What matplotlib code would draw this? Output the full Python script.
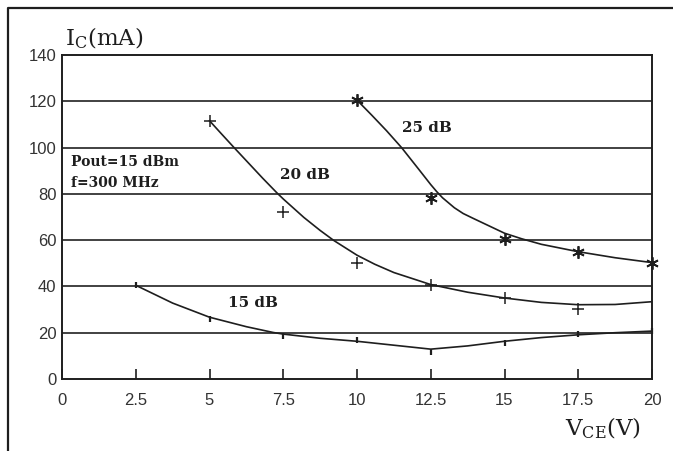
#!/usr/bin/env python3

import matplotlib
matplotlib.use("Agg")
import matplotlib.pyplot as plt
from matplotlib.lines import Line2D

# measured points (V_CE in V, I_C in mA)
vce_15 = [2.5, 5, 7.5, 10, 12.5, 15, 17.5, 20]
ic_15 = [40.5, 26, 18.7, 16.8, 11.6, 15.7, 19.3, 20.7]
vce_20 = [5, 7.5, 10, 12.5, 15, 17.5]
ic_20 = [111.6, 72.3, 50.3, 40.6, 35.0, 30.1]
vce_25 = [10, 12.5, 15, 17.5, 20]
ic_25 = [120.5, 78.1, 60.4, 55.0, 50.3]

# fitted curves
curve_x_15 = [2.5, 3.75, 5, 6.25, 7.16, 7.5, 8.75, 10, 11.25, 12.5, 13.75, 15, 16.25, 17.5, 18.75, 20]
curve_y_15 = [40.5, 32.8, 26.7, 22.6, 20.1, 19.4, 17.6, 16.3, 14.6, 12.9, 14.3, 16.3, 17.9, 19.1, 20.0, 20.7]
curve_x_20 = [5, 5.4, 5.81, 6.25, 6.8, 7.28, 7.5, 8.2, 8.75, 9.22, 10, 10.6, 11.25, 12.5, 13.75, 15, 16.25, 17.5, 18.75, 20]
curve_y_20 = [111.6, 106, 100.3, 94.3, 86.8, 80.5, 77.8, 69.8, 64.2, 59.8, 53.5, 49.6, 46.0, 40.8, 37.5, 35.0, 33.1, 32.1, 32.2, 33.4]
curve_x_25 = [10, 10.5, 11, 11.51, 12.1, 12.5, 12.7, 12.9, 13.3, 13.6, 13.94, 15, 15.58, 16.25, 17.5, 18.75, 20]
curve_y_25 = [120.5, 114, 107.3, 100, 90.5, 84, 81, 78.3, 74, 71.5, 69.4, 63.0, 60.6, 58.2, 55.0, 52.4, 50.3]

x_ticks = [0, 2.5, 5, 7.5, 10, 12.5, 15, 17.5, 20]
x_tick_labels = ["0", "2.5", "5", "7.5", "10", "12.5", "15", "17.5", "20"]
y_ticks = [0, 20, 40, 60, 80, 100, 120, 140]

INK = "#1e1e1e"
label_font = dict(family="DejaVu Serif", fontweight="bold", color=INK)

fig = plt.figure(figsize=(6.73, 4.51), dpi=100)
ax = fig.add_axes([62 / 673, 1 - 379 / 451, 590 / 673, 324 / 451])

for y in y_ticks[1:-1]:
    ax.axhline(y, color="#333333", lw=1.3, zorder=1)

ax.plot(curve_x_15, curve_y_15, color=INK, lw=1.2, zorder=3)
ax.plot(curve_x_20, curve_y_20, color=INK, lw=1.2, zorder=3)
ax.plot(curve_x_25, curve_y_25, color=INK, lw=1.2, zorder=3)

ax.plot(vce_15, ic_15, ls="none", marker="|", ms=4, mew=1.6, color=INK, zorder=4, clip_on=False)
ax.plot(vce_20, ic_20, ls="none", marker="+", ms=9, mew=1.1, color=INK, zorder=4, clip_on=False)
ax.plot(vce_25, ic_25, ls="none", marker=(6, 2, 0), ms=9, mew=1.3, color=INK, zorder=4, clip_on=False)

ax.text(11.52, 108.3, "25 dB", ha="left", va="center", fontsize=11, **label_font)
ax.text(7.39, 88.2, "20 dB", ha="left", va="center", fontsize=11, **label_font)
ax.text(5.64, 33, "15 dB", ha="left", va="center", fontsize=11, **label_font)
ax.text(0.3, 93.6, "Pout=15 dBm", ha="left", va="center", fontsize=10, **label_font)
ax.text(0.3, 84.8, "f=300 MHz", ha="left", va="center", fontsize=10, **label_font)

ax.set_xlim(0, 20)
ax.set_ylim(0, 140)
ax.set_xticks(x_ticks)
ax.set_xticklabels(x_tick_labels)
ax.set_yticks(y_ticks)
ax.tick_params(axis="x", direction="in", length=7, width=1.2, color=INK, pad=10,
               labelsize=12, labelcolor="#333333")
ax.tick_params(axis="y", length=0, pad=4, labelsize=12, labelcolor="#333333")
for t in ax.get_xticklabels() + ax.get_yticklabels():
    t.set_family("Liberation Sans")
for side in ["left", "right", "top", "bottom"]:
    ax.spines[side].set_color(INK)
    ax.spines[side].set_linewidth(1.4)

fig.text(65 / 673, 1 - 38 / 451, r"$\mathregular{I_C(mA)}$", ha="left", va="center",
         family="DejaVu Serif", fontsize=16.5, color=INK)
fig.text(565 / 673, 1 - 428 / 451, r"$\mathregular{V_{CE}(V)}$", ha="left", va="center",
         family="DejaVu Serif", fontsize=16.5, color=INK)

# page frame, open at right and bottom
fig.add_artist(Line2D([8 / 673, 8 / 673, 1.0], [0.0, 1 - 8 / 451, 1 - 8 / 451],
                      transform=fig.transFigure, color=INK, lw=1.6))

fig.savefig("out.png", dpi=100)
